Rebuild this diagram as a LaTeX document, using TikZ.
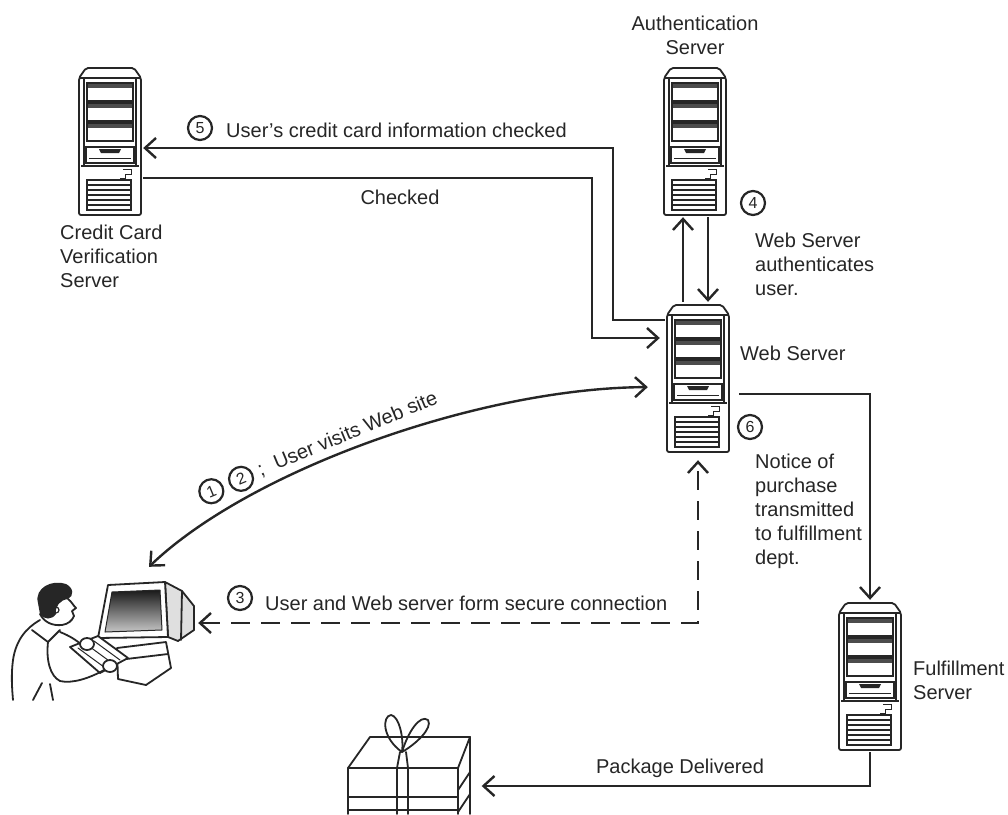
\documentclass[tikz,border=0pt]{standalone}
\usepackage{fontspec}
\setmainfont{Liberation Sans}
\usetikzlibrary{arrows.meta,calc}

\tikzset{
  txt/.style={font=\fontsize{20}{24}\selectfont, inner sep=0pt, text=black!85},
  num/.style={circle, draw=black!85, line width=2.2pt, minimum size=24pt, inner sep=0pt,
              font=\fontsize{16}{16}\selectfont, text=black!85},
  link/.style={line width=2.4pt, draw=black!85},
  server/.style={minimum width=66pt, minimum height=152pt, inner sep=0pt},
  spot/.style={inner sep=0pt},
  art/.style={line width=1.8pt, line join=round, line cap=round, draw=black!85},
  % tower-case server, 66 x 152, centred on the pic origin (y points down)
  tower/.pic={
    \begin{scope}[shift={(-33,-76)}, line width=1.4pt, black!85]
      \draw[line width=1.8pt, rounded corners=2pt]
        (2,13) -- (2,150) -- (64,150) -- (64,13) -- (57,3) -- (9,3) -- cycle;
      \draw (2,13) -- (64,13);
      \draw (7,13) -- (7,100) (59,13) -- (59,100);
      \foreach \y in {18,38,58}{
        \fill[black!70] (10,\y) rectangle (56,\y+5);
        \draw (10,\y) rectangle (56,\y+18);
      }
      \draw (9,82) rectangle (57,98);
      \fill (22,84) -- (44,84) -- (42,88) -- (24,88) -- cycle;
      \draw[line width=.7pt] (12,93) -- (54,93);
      \draw (4,101) -- (62,101);
      \draw[line width=.8pt] (46,104) -- (54,104) -- (54,109) -- (48,109) -- (48,113) -- (43,113);
      \draw (10,115) rectangle (54,145);
      \foreach \y in {120,125,130,135,140}{\draw (10,\y) -- (54,\y);}
    \end{scope}
  },
}
% circled step number set inline with text
\newcommand\circnum[1]{\tikz[baseline=(cn.base)]\node[num] (cn) {#1};}

\begin{document}
\begin{tikzpicture}[x=1pt,y=-1pt,
  >={Straight Barb[length=11pt,width=20pt]},
]
\useasboundingbox (0,0) rectangle (1008,814);
\fill[white] (0,0) rectangle (1008,814);

% ---------- servers ----------
\node[server] (cc)   at (110,141) {};
\node[server] (auth) at (695,141) {};
\node[server] (web)  at (698,378) {};
\node[server] (ful)  at (870,676) {};
\foreach \s in {cc,auth,web,ful}{\pic at (\s) {tower};}

% anchor regions of the two drawings
\node[spot, minimum width=98pt, minimum height=128pt] (pc) at (149,631) {};
\node[spot, minimum width=137pt, minimum height=100pt] (gift) at (413,765) {};

% ---------- user at the computer ----------
\begin{scope}[art]
  % monitor case below the screen
  \filldraw[fill=white] (117,648) -- (166,642) -- (171,668) -- (146,685) -- (118,679) -- cycle;
  \draw (118,660) -- (168,654);
  % CRT body
  \filldraw[fill=gray!25] (165,582) -- (182,591) -- (194,606) -- (194,630) -- (178,641) -- (168,637) -- cycle;
  \draw (182,591) -- (181,640);
  % bezel and screen
  \filldraw[fill=white] (98,638) -- (108,585) -- (165,582) -- (168,637) -- cycle;
  \shade[shading angle=30, bottom color=gray!45, top color=black!90]
    (112,592) -- (160,590) -- (162,630) -- (105,632) -- cycle;
  \draw[line width=1pt] (112,592) -- (160,590) -- (162,630) -- (105,632) -- cycle;
  % keyboard
  \filldraw[fill=white] (70,647) -- (98,636) -- (128,658) -- (100,673) -- cycle;
  \draw[line width=1pt] (78,648) -- (104,667) (86,644) -- (112,663) (94,641) -- (120,660);
  % hair and head
  \fill[black!85] (38,603) .. controls (34,588) and (52,579) .. (66,584)
        .. controls (74,588) and (74,596) .. (68,599)
        .. controls (60,600) and (55,606) .. (56,614)
        .. controls (52,620) and (44,620) .. (40,614) -- cycle;
  \draw (68,599) .. controls (72,602) and (72,604) .. (76,608)
        -- (72,611) -- (74,616) .. controls (72,621) and (68,624) .. (62,625);
  \draw[line width=1.2pt] (56,610) circle (3pt);
  \draw (40,614) .. controls (44,622) and (52,626) .. (62,625);
  % back and shoulders
  \draw (40,620) .. controls (26,628) and (16,640) .. (13,660)
        .. controls (11,675) and (12,688) .. (13,700);
  \draw (32,630) -- (48,642) -- (60,630);
  % arm and body front
  \draw (48,642) .. controls (46,660) and (50,676) .. (60,681)
        .. controls (72,684) and (90,678) .. (104,670);
  \draw (33,700) -- (42,683) (50,684) -- (53,700);
  \draw (60,632) .. controls (70,636) and (76,640) .. (82,645);
  % hands on the keyboard
  \filldraw[fill=white] (87,644) ellipse (7pt and 6pt);
  \filldraw[fill=white] (110,666) ellipse (7pt and 6pt);
\end{scope}

% ---------- package ----------
\begin{scope}[art]
  \draw (348,814) -- (348,768) -- (458,768) -- (458,814);
  \draw (348,768) -- (370,737) -- (470,737) -- (458,768);
  \draw (470,737) -- (470,814);
  \draw (348,797) -- (458,797) (348,810) -- (458,810);
  \draw (458,790) -- (470,772) (458,812) -- (470,794);
  \draw (397,814) -- (397,768) -- (400,752) (408,814) -- (408,768) -- (406,752);
  \draw (402,752) .. controls (382,738) and (382,716) .. (391,715)
        .. controls (399,716) and (404,738) .. (402,752);
  \draw (402,752) .. controls (408,732) and (420,714) .. (428,720)
        .. controls (433,728) and (416,744) .. (402,752);
\end{scope}

% ---------- connectors ----------
\draw[link,->] (web.west |- 0,320) -| (613,148) -- (cc.east |- 0,148);
\draw[link,->,shorten >=5pt] (cc.east |- 0,178) -| (592,338) -- (web.west |- 0,338);
\draw[link,->] (683,0 |- web.north) -- (683,0 |- auth.south);
\draw[link,->] (708,0 |- auth.south) -- (708,0 |- web.north);
\draw[link,->,shorten <=8pt] (web.east |- 0,394) -| (ful.north);
\draw[link,->] (ful.south) |- (gift.east |- 0,786);
\draw[link,<->,dash pattern=on 19pt off 11pt,shorten >=6pt] (pc.east |- 0,623) -| (web.south);
\draw[link,<->,shorten <=17pt] (web.west |- 0,387) .. controls (480,388) and (250,470) .. (pc.north);

% ---------- labels ----------
\node[txt, align=center] (lauth) at (695,35) {Authentication\\Server};
\node[txt, align=left, anchor=west] (lcc) at (60,256) {Credit Card\\Verification\\Server};
\node[num] (n5) at (200,128) {5};
\node[txt, anchor=west] (l5) at (226,130) {User's credit card information checked};
\node[txt] (lchk) at (400,197) {Checked};
\node[num] (n4) at (753,203) {4};
\node[txt, align=left, anchor=west] (l4) at (755,264) {Web Server\\authenticates\\user.};
\node[txt, anchor=west] (lweb) at (740,353) {Web Server};
\node[num] (n6) at (750,427) {6};
\node[txt, align=left, anchor=west] (l6) at (755,511) {Notice of\\purchase\\transmitted\\to fulfillment\\dept.};
\node[txt, align=left, anchor=west] (lful) at (913,680) {Fulfillment\\Server};
\node[txt] (lpkg) at (680,768) {Package Delivered};
\node[num] (n3) at (240,598) {3};
\node[txt, anchor=west] (l3) at (265,603) {User and Web server form secure connection};
\node[txt, rotate=22.5] (l12) at (318,447)
  {\circnum{1}\hspace{6pt}\circnum{2}\hspace{6pt};\hspace{12pt}User visits Web site};
\end{tikzpicture}
\end{document}
